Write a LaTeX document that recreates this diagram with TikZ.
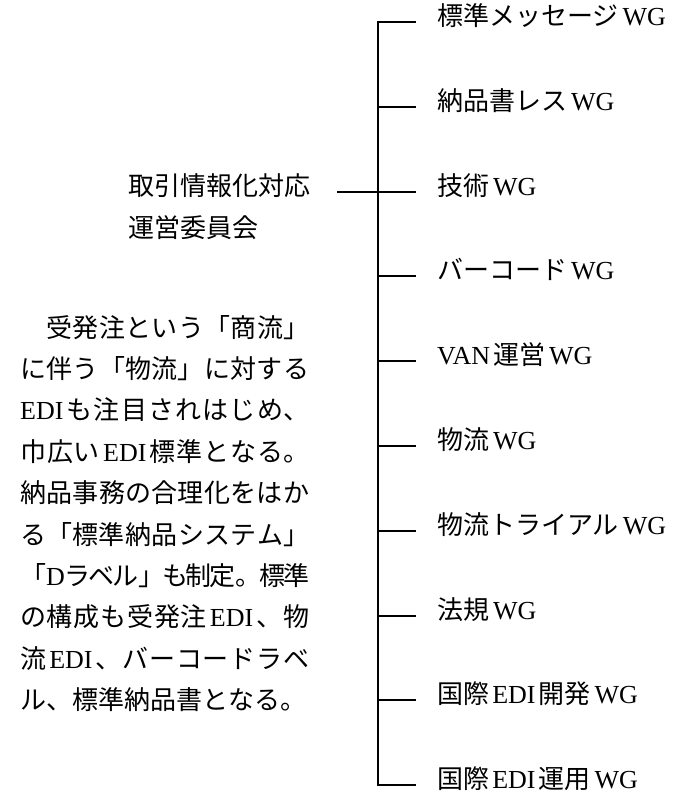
\documentclass[tikz,border=0pt]{standalone}
\usepackage{fontspec}
\setmainfont{Noto Sans CJK JP}
\newfontfamily\latfont{Liberation Serif}
\newcommand{\lat}[1]{\hspace{0.12em}{\latfont #1}\hspace{0.12em}}
\newcommand{\wg}{\hspace{0.15em}{\latfont WG}}
\begin{document}
\begin{tikzpicture}[x=1pt,y=-1pt,
  conn/.style={line width=1.6pt, line join=miter, line cap=rect},
  txt/.style={inner sep=0pt, anchor=west, font=\fontsize{26}{30}\selectfont,
              text height=0.88em, text depth=0.12em},
  parastyle/.style={inner sep=0pt, anchor=north west, text width=289pt, align=justify,
              font=\fontsize{26}{41.4}\selectfont}]
\useasboundingbox (0,0) rectangle (687,797);
\fill[white] (0,0) rectangle (687,797);

% hub coordinates on the vertical line
\coordinate (c0) at (378,22);
\coordinate (c1) at (378,107);
\coordinate (c2) at (378,192);
\coordinate (c3) at (378,276);
\coordinate (c4) at (378,361);
\coordinate (c5) at (378,446);
\coordinate (c6) at (378,531);
\coordinate (c7) at (378,616);
\coordinate (c8) at (378,700);
\coordinate (c9) at (378,785);

% labels
\node[txt] (l0) at (437,22)  {標準メッセージ\wg};
\node[txt] (l1) at (437,107) {納品書レス\wg};
\node[txt] (l2) at (437,192) {技術\wg};
\node[txt] (l3) at (437,276) {バーコード\wg};
\node[txt] (l4) at (437,361) {{\latfont VAN}\hspace{0.12em}運営\wg};
\node[txt] (l5) at (437,446) {物流\wg};
\node[txt] (l6) at (437,531) {物流トライアル\wg};
\node[txt] (l7) at (437,616) {法規\wg};
\node[txt] (l8) at (437,700) {国際\lat{EDI}開発\wg};
\node[txt] (l9) at (437,785) {国際\lat{EDI}運用\wg};

% main committee
\node[txt] (main)  at (128,192) {取引情報化対応};
\node[txt] (main2) at (128,234) {運営委員会};

% connectors
\draw[conn] ([xshift=-22pt]l0.west) -- (c0) -- (c9) -- ([xshift=-22pt]l9.west);
\foreach \i in {1,...,8} {
  \draw[conn] (c\i) -- ([xshift=-22pt]l\i.west);
}
\draw[conn] ([xshift=27pt]main.east) -- (c2);

% paragraph
\node[parastyle] (para) at (20,314) {%
  \XeTeXlinebreaklocale "ja"\XeTeXlinebreakskip=0pt plus 4pt minus 4pt
  \parfillskip=0pt \tolerance=10000 \parindent=0pt
  \rule{0pt}{0.88em}\hspace*{1em}受発注という「商流」\linebreak
  に伴う「物流」に対する\linebreak
  \lat{EDI}も注目されはじめ、\linebreak
  巾広い\lat{EDI}標準となる。\linebreak
  納品事務の合理化をはか\linebreak
  る「標準納品システム」\linebreak
  「{\latfont D}ラベル」も制定。標準\linebreak
  の構成も受発注\lat{EDI}、物\linebreak
  流\lat{EDI}、バーコードラベ\linebreak
  ル、標準納品書となる。};
\end{tikzpicture}
\end{document}
